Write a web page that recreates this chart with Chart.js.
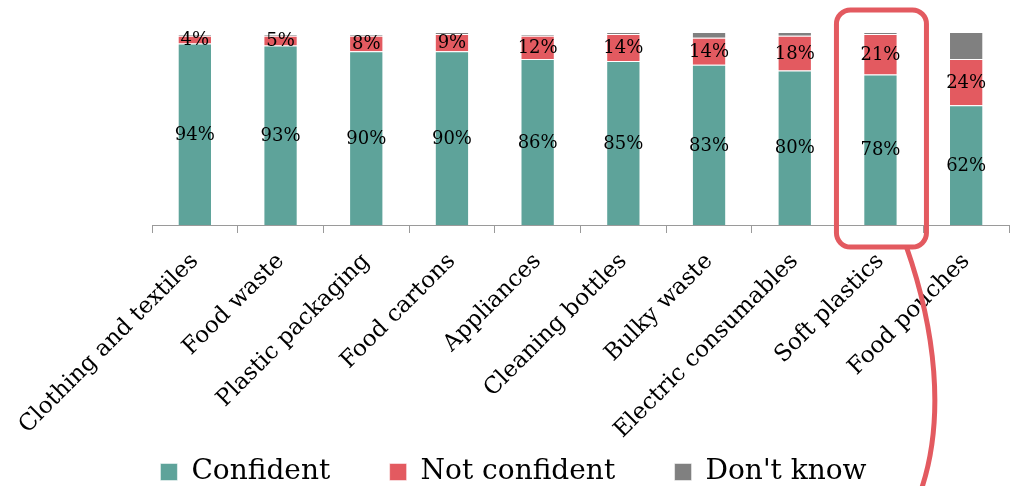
<!DOCTYPE html>
<html>
<head>
<meta charset="utf-8">
<script src="https://cdn.jsdelivr.net/npm/chart.js@4"></script>
<style>
    html, body { margin: 0; padding: 0; background: #fff; }
    #wrap { width: 1020px; height: 486px; }
</style>
</head>
<body>
<div id="wrap"><canvas id="chart"></canvas></div>
<script>
// categories and series (percent of respondents)
let categories = ["Clothing and textiles", "Food waste", "Plastic packaging", "Food cartons",
    "Appliances", "Cleaning bottles", "Bulky waste", "Electric consumables", "Soft plastics", "Food pouches"];
let confident = [94, 93, 90, 90, 86, 85, 83, 80, 78, 62];
let notConfident = [4, 5, 8, 9, 12, 14, 14, 18, 21, 24];
let dontKnow = [1, 1, 1, 1, 1, 1, 3, 2, 1, 14];
let seriesNames = ["Confident", "Not confident", "Don't know"];
let highlighted = "Soft plastics";

let font = "'DejaVu Serif', Georgia, serif";
let red = "#e35a60";

// write the percent in the middle of the confident / not confident segments
let valueLabels = {
    id: "valueLabels",
    afterDatasetsDraw(chart) {
        let ctx = chart.ctx;
        ctx.save();
        ctx.font = "18px " + font;
        ctx.fillStyle = "#000";
        ctx.textAlign = "center";
        ctx.textBaseline = "middle";
        [0, 1].forEach(i => {
            let meta = chart.getDatasetMeta(i);
            meta.data.forEach((bar, j) => {
                let p = bar.getProps(["x", "y", "base"], true);
                ctx.fillText(chart.data.datasets[i].data[j] + "%", p.x, (p.y + p.base) / 2 + 1);
            });
        });
        ctx.restore();
    }
};

// red rounded box round the highlighted bar, with a curved line running off the bottom
let highlight = {
    id: "highlight",
    afterDraw(chart) {
        let idx = categories.indexOf(highlighted);
        let bar = chart.getDatasetMeta(0).data[idx];
        let area = chart.chartArea;
        let left = bar.x - 44, right = bar.x + 46;
        let top = area.top - 22, bottom = area.bottom + 22;
        let ctx = chart.ctx;
        ctx.save();
        ctx.strokeStyle = red;
        ctx.lineWidth = 5;
        ctx.beginPath();
        ctx.roundRect(left, top, right - left, bottom - top, 14);
        ctx.stroke();
        ctx.beginPath();
        ctx.moveTo(right - 20, bottom);
        ctx.bezierCurveTo(right + 8, bottom + 80, right + 20, bottom + 170, right - 6, bottom + 245);
        ctx.stroke();
        ctx.restore();
    }
};

function main() {
    let ctx = document.getElementById("chart");
    new Chart(ctx, {
        type: "bar",
        data: {
            labels: categories,
            datasets: [
                { label: seriesNames[0], data: confident, backgroundColor: "#5ea39a" },
                { label: seriesNames[1], data: notConfident, backgroundColor: "#e35a60" },
                { label: seriesNames[2], data: dontKnow, backgroundColor: "#808080" }
            ].map(d => Object.assign(d, {
                barPercentage: 0.4,
                categoryPercentage: 1,
                borderWidth: 1,
                borderColor: "rgba(255,255,255,0.5)"
            }))
        },
        options: {
            responsive: true,
            maintainAspectRatio: false,
            animation: false,
            layout: { padding: { top: 32, right: 11, left: 18, bottom: 0 } },
            plugins: {
                tooltip: { enabled: false },
                legend: {
                    position: "bottom",
                    maxHeight: 34,
                    labels: {
                        color: "#000",
                        font: { family: font, size: 28 },
                        boxWidth: 17,
                        boxHeight: 17,
                        padding: 6,
                        // wider gaps between the legend items
                        generateLabels(chart) {
                            let items = Chart.defaults.plugins.legend.labels.generateLabels(chart);
                            items.forEach((item, i) => {
                                if (i < items.length - 1) item.text += "\u00a0".repeat(6);
                            });
                            return items;
                        }
                    }
                }
            },
            scales: {
                x: {
                    stacked: true,
                    border: { display: true, color: "#9a9a9a", width: 1 },
                    grid: { display: true, drawOnChartArea: false, color: "#9a9a9a", tickLength: 8 },
                    ticks: {
                        color: "#000",
                        font: { family: font, size: 23 },
                        maxRotation: 45,
                        minRotation: 45,
                        padding: 15
                    }
                },
                y: {
                    stacked: true,
                    min: 0,
                    max: 100,
                    // invisible axis, only there to hold the left margin
                    ticks: { display: false },
                    grid: { display: false },
                    border: { display: false },
                    afterFit(scale) { scale.width = 134; }
                }
            }
        },
        plugins: [valueLabels, highlight]
    });
}

document.addEventListener("DOMContentLoaded", main);
</script>
</body>
</html>
